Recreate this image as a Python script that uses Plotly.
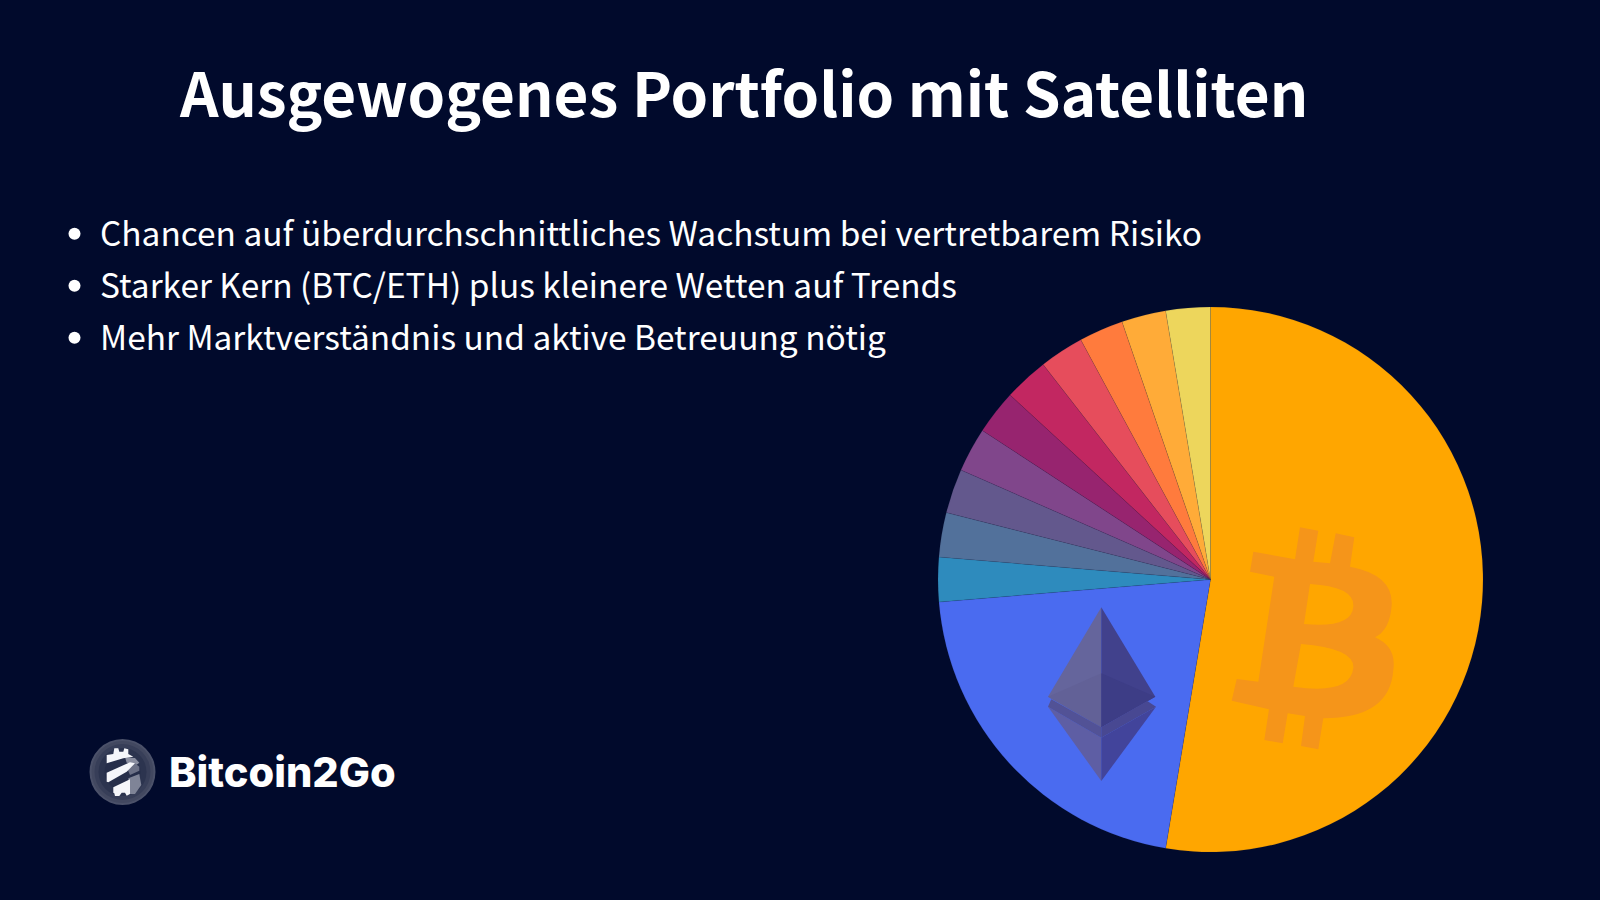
import plotly.graph_objects as go

# Data
labels = ["Bitcoin", "Ethereum", "Satellit 1", "Satellit 2", "Satellit 3", "Satellit 4",
          "Satellit 5", "Satellit 6", "Satellit 7", "Satellit 8", "Satellit 9", "Satellit 10"]
values = [50, 20, 2.5, 2.5, 2.5, 2.5, 2.5, 2.5, 2.5, 2.5, 2.5, 2.5]
slice_colors = ["#FFA600", "#4A6BF0", "#2E8BBD", "#52719B", "#63588D", "#80468B",
                "#97246F", "#C22761", "#E64D5C", "#FF7B3D", "#FFAB38", "#EDD65C"]

title_text = "Ausgewogenes Portfolio mit Satelliten"
bullets = [
    "Chancen auf überdurchschnittliches Wachstum bei vertretbarem Risiko",
    "Starker Kern (BTC/ETH) plus kleinere Wetten auf Trends",
    "Mehr Marktverständnis und aktive Betreuung nötig",
]
brand = "Bitcoin2Go"

BG = "#010A2C"
FONT = "Noto Sans CJK SC"
W, H = 1600, 900
CX, CY, R = 1210.5, 579.5, 272.5

fig = go.Figure()

# -------------------------------
# Pie
# -------------------------------
fig.add_trace(go.Pie(
    labels=labels,
    values=values,
    sort=False,
    direction="clockwise",
    rotation=0,
    textinfo="none",
    showlegend=False,
    marker=dict(colors=slice_colors, line=dict(color="rgba(40,40,70,0.2)", width=0.5)),
    domain=dict(x=[(CX - R) / W, (CX + R) / W], y=[1 - (CY + R) / H, 1 - (CY - R) / H]),
))


def scaled(points, x0, y0):
    # zoom-crop pixels to page pixels, as an SVG polygon
    pts = [(x0 + px / 3, y0 + py / 3) for px, py in points]
    return "M" + " L".join(f"{x:.1f},{y:.1f}" for x, y in pts) + " Z"


def poly(points, color, x0, y0):
    fig.add_shape(type="path", path=scaled(points, x0, y0), fillcolor=color,
                  line_width=0, xref="x", yref="y", layer="above")


# -------------------------------
# Bitcoin sign on the big slice
# -------------------------------
def p(x, y):
    return f"{1215 + x / 3:.1f},{510 + y / 3:.1f}"


btc_path = (
    f"M{p(115,125)} L{p(240,148)} L{p(255,52)} L{p(310,62)} L{p(295,155)} L{p(345,160)}"
    f" L{p(362,70)} L{p(418,82)} L{p(405,170)} Q{p(535,195)} {p(530,285)} Q{p(525,360)} {p(480,382)}"
    f" Q{p(545,410)} {p(535,480)} Q{p(525,625)} {p(325,625)} L{p(310,718)} L{p(258,708)} L{p(270,618)}"
    f" L{p(218,610)} L{p(203,700)} L{p(148,690)} L{p(162,598)} L{p(50,572)} L{p(65,507)}"
    f" L{p(130,515)} L{p(178,200)} L{p(105,185)} Z"
    f" M{p(285,222)} Q{p(420,230)} {p(415,290)} Q{p(410,355)} {p(267,342)} Z"
    f" M{p(258,402)} Q{p(420,415)} {p(415,475)} Q{p(405,555)} {p(235,530)} Z"
)
fig.add_shape(type="path", path=btc_path, fillcolor="#F5951A", fillrule="evenodd",
              line_width=0, xref="x", yref="y", layer="above")

# -------------------------------
# Ethereum sign
# -------------------------------
EX, EY = 1030, 595
poly([(214, 37), (54, 305), (214, 397)], "#65659C", EX, EY)
poly([(214, 37), (376, 305), (214, 397)], "#41418C", EX, EY)
poly([(54, 305), (214, 235), (214, 397)], "#626197", EX, EY)
poly([(214, 235), (376, 305), (214, 397)], "#3D3D86", EX, EY)
poly([(54, 335), (214, 428), (214, 558)], "#5E5EA4", EX, EY)
poly([(378, 335), (214, 428), (214, 558)], "#42449B", EX, EY)
poly([(54, 335), (64, 313), (214, 397), (214, 428)], "#525296", EX, EY)
poly([(378, 335), (352, 318), (214, 397), (214, 428)], "#484892", EX, EY)

# -------------------------------
# Brand logo, bottom left
# -------------------------------
LX, LY = 122.5, 772
for radius, shade in [(33, "#4B5169"), (31, "#424860"), (28, "#373E58"), (24, "#2C344F"), (18, "#262E4A")]:
    fig.add_shape(type="circle", x0=LX - radius, x1=LX + radius, y0=LY - radius, y1=LY + radius,
                  fillcolor=shade, line_width=0, xref="x", yref="y", layer="above")

GX, GY = 80, 730
poly([(135, 82), (165, 84), (178, 98), (170, 104), (140, 98)], "#8A8EA0", GX, GY)
poly([(140, 112), (165, 100), (178, 110), (178, 122), (150, 135)], "#6C7186", GX, GY)
poly([(145, 145), (178, 132), (184, 165), (165, 192), (148, 192)], "#7F8497", GX, GY)
poly([(80, 75), (100, 72), (103, 55), (115, 55), (118, 65), (130, 65), (133, 55), (145, 58),
      (145, 72), (160, 80), (130, 85), (80, 100)], "#F5F6FA", GX, GY)
poly([(80, 128), (150, 97), (165, 100), (140, 125), (85, 157), (80, 155)], "#F5F6FA", GX, GY)
poly([(100, 172), (150, 148), (150, 192), (140, 197), (135, 188), (125, 188), (118, 198),
      (105, 198), (103, 190), (100, 188)], "#F5F6FA", GX, GY)

fig.add_annotation(text=brand, x=167, y=772, xref="x", yref="y", xanchor="left", yanchor="middle",
                   showarrow=False, font=dict(family="Inter", size=41.5, color="#FFFFFF", weight=800))

# -------------------------------
# Bullet list
# -------------------------------
for line, y in zip(bullets, [231.7, 283.7, 335.8]):
    fig.add_shape(type="circle", x0=68.5, x1=80.5, y0=y - 4, y1=y + 8, fillcolor="#FFFFFF",
                  line_width=0, xref="x", yref="y", layer="above")
    fig.add_annotation(text=line, x=98, y=y, xref="x", yref="y", xanchor="left", yanchor="middle",
                       showarrow=False, font=dict(family=FONT, size=33.43, color="#FFFFFF"))

fig.update_layout(
    width=W,
    height=H,
    margin=dict(l=0, r=0, t=0, b=0),
    paper_bgcolor=BG,
    plot_bgcolor=BG,
    title=dict(text=title_text, x=180 / W, xanchor="left", xref="paper", y=1 - 96 / H, yanchor="middle",
               font=dict(family=FONT, size=60.2, color="#FFFFFF", weight="bold")),
    xaxis=dict(range=[0, W], visible=False, fixedrange=True),
    yaxis=dict(range=[H, 0], visible=False, fixedrange=True),
)

fig.write_html("out.html", config=dict(displayModeBar=False),
               post_script="document.body.style.margin='0';document.body.style.background='" + BG + "';")
